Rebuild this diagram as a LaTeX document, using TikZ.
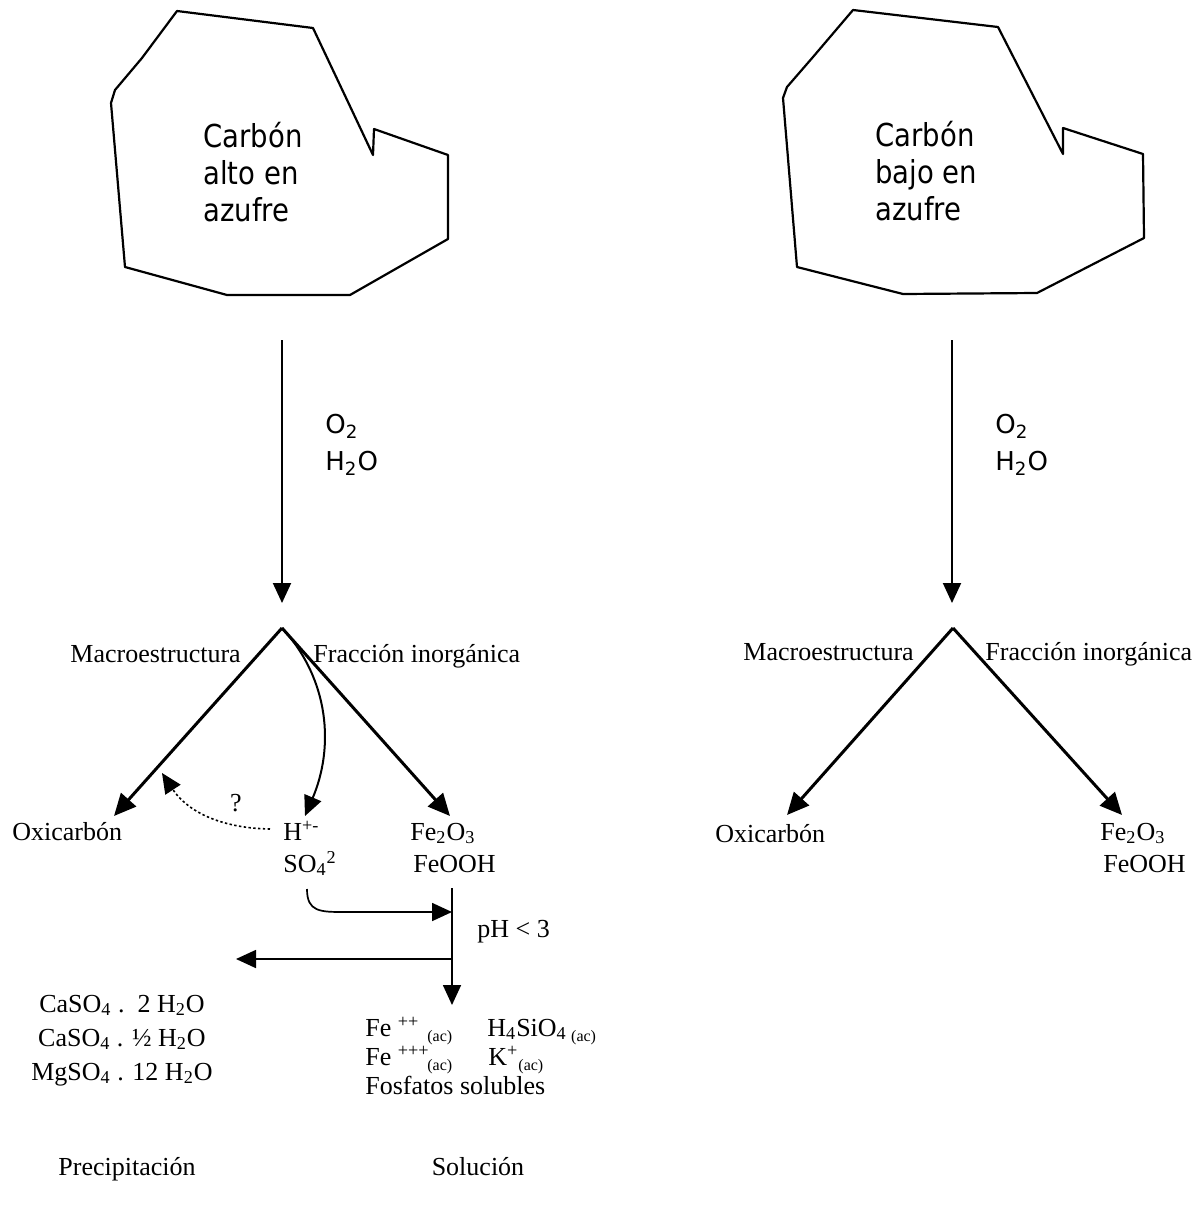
\documentclass[tikz,border=0pt]{standalone}
\usepackage{fontspec}
\setmainfont{Liberation Serif}
\newfontfamily\tah[FakeStretch=0.87]{DejaVu Sans}
\newfontfamily\tahO{DejaVu Sans}
\usetikzlibrary{arrows.meta}
\newcommand\acq{\raisebox{-0.45ex}{\fontsize{8}{8}\selectfont(ac)}}
\tikzset{
  serif/.style={font=\fontsize{13}{15}\selectfont, inner sep=0pt, anchor=base west},
  serifc/.style={font=\fontsize{13}{15}\selectfont, inner sep=0pt, anchor=base},
  big/.style={font=\tah\fontsize{15.8}{18}\selectfont, inner sep=0pt, anchor=base west},
  gas/.style={font=\tahO\fontsize{13}{15}\selectfont, inner sep=0pt, anchor=base west},
  headed/.style={-{Triangle[length=10pt,width=9pt]}},
  bighead/.style={-{Triangle[length=11pt,width=10pt]}},
  branch/.style={bighead, line width=1.5pt},
  mainarrow/.style={headed, line width=1pt},
  flow/.style={headed, line width=0.85pt},
  rock/.style={line width=1.1pt, line join=round},
}
\begin{document}
\begin{tikzpicture}[x=0.5pt,y=-0.5pt]
\useasboundingbox (0,0) rectangle (1201,1210);

% ---------- rocks ----------
\draw[rock] (177,11) -- (313,28) -- (348,102) -- (373,155) -- (374,129) -- (448,155)
  -- (448,239) -- (350,295) -- (227,295) -- (125,267) -- (111,103) -- (115,90)
  -- (142,58) -- cycle;
\draw[rock] (853,10) -- (998,27) -- (1063,154) -- (1063,128) -- (1143,154)
  -- (1144,238) -- (1037,293) -- (903,294) -- (797,267) -- (783,98) -- (787,87)
  -- (813,57) -- cycle;

\node[big] (cL1) at (203,147) {Carbón};
\node[big] (cL2) at (203,184) {alto en};
\node[big] (cL3) at (203,221) {azufre};
\node[big] (cR1) at (875,146) {Carbón};
\node[big] (cR2) at (875,183) {bajo en};
\node[big] (cR3) at (875,220) {azufre};

% ---------- vertical arrows ----------
\coordinate (vLs) at (282,340);
\coordinate (apexL) at (282,628);
\coordinate (vLe) at (282,603);
\coordinate (vRs) at (952,340);
\coordinate (apexR) at (953,628);
\coordinate (vRe) at (952,603);
\draw[mainarrow] (vLs) -- (vLe);
\draw[mainarrow] (vRs) -- (vRe);

\node[gas] (o2L) at (325,433) {O\textsubscript{2}};
\node[gas] (h2oL) at (325,470) {H\textsubscript{2}O};
\node[gas] (o2R) at (995,433) {O\textsubscript{2}};
\node[gas] (h2oR) at (995,470) {H\textsubscript{2}O};

% ---------- left branching ----------
\node[serif] (macL) at (70,662) {Macroestructura};
\node[serif] (fraL) at (313,662) {Fracción inorgánica};
\node[serif] (oxL) at (12,840) {Oxicarbón};
\node[serif] (hL) at (283,840) {H\textsuperscript{+-}};
\node[serif] (sL) at (283,872) {SO\textsubscript{4}\textsuperscript{2}};
\node[serif] (feL) at (410,840) {Fe\textsubscript{2}O\textsubscript{3}};
\node[serif] (fooL) at (413,872) {FeOOH};

\coordinate (tOxL) at (114,816);
\coordinate (tFeL) at (450,816);
\coordinate (tHL) at (305,816);
\coordinate (hStart) at (270,829);
\coordinate (qTip) at (162,773);
\draw[branch] (apexL) -- (tOxL);
\draw[branch] (apexL) -- (tFeL);
\draw[mainarrow] (apexL) .. controls (330,680) and (334,748) .. (tHL);
\draw[headed, line width=0.8pt, dash pattern=on 1.2pt off 1.2pt]
  (hStart) .. controls (215,828) and (185,808) .. (qTip);
\node[serifc] (q) at (236,811) {?};

% ---------- lower left ----------
\coordinate (sStart) at (307,889);
\coordinate (vBs) at (452,888);
\coordinate (vBe) at (452,1005);
\coordinate (jSO) at (452,912);
\coordinate (jPre) at (452,959);
\coordinate (tPre) at (236,959);
\draw[line width=0.85pt] (vBs) -- (jSO);
\draw[flow] (sStart) .. controls (307,912) and (320,912) .. (345,912) -- (jSO);
\draw[flow] (jSO) -- (vBe);
\draw[flow] (jPre) -- (tPre);
\node[serif] (ph) at (477,937) {pH < 3};

\node[serifc] (ca1) at (122,1012) {CaSO\textsubscript{4} .\ \ 2 H\textsubscript{2}O};
\node[serifc] (ca2) at (122,1046) {CaSO\textsubscript{4} . ½ H\textsubscript{2}O};
\node[serifc] (mg) at (122,1080) {MgSO\textsubscript{4} . 12 H\textsubscript{2}O};

\node[serif] (fe2) at (365,1036) {\makebox[31pt][l]{Fe \textsuperscript{++}}\acq};
\node[serif] (fe3) at (365,1065) {\makebox[31pt][l]{Fe \textsuperscript{+++}}\acq};
\node[serif] (si) at (487,1036) {H\textsubscript{4}SiO\textsubscript{4}\,\acq};
\node[serif] (k) at (488,1065) {K\textsuperscript{+}\acq};
\node[serif] (fos) at (365,1094) {Fosfatos solubles};

\node[serifc] (prec) at (127,1175) {Precipitación};
\node[serifc] (sol) at (478,1175) {Solución};

% ---------- right branching ----------
\node[serif] (macR) at (743,660) {Macroestructura};
\node[serif] (fraR) at (985,660) {Fracción inorgánica};
\node[serif] (oxR) at (715,842) {Oxicarbón};
\node[serif] (feR) at (1100,840) {Fe\textsubscript{2}O\textsubscript{3}};
\node[serif] (fooR) at (1103,872) {FeOOH};
\coordinate (tOxR) at (787,815);
\coordinate (tFeR) at (1122,815);
\draw[branch] (apexR) -- (tOxR);
\draw[branch] (apexR) -- (tFeR);
\end{tikzpicture}
\end{document}
